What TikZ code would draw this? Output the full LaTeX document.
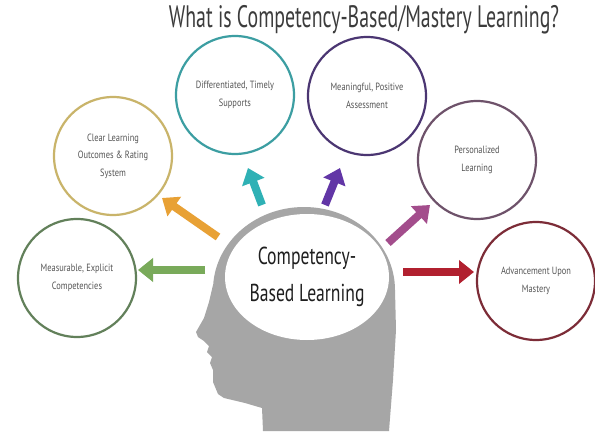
\documentclass[tikz,border=0pt]{standalone}
\usepackage{fontspec}
\usetikzlibrary{arrows.meta,shapes.geometric}
\newfontfamily\titlefont[FakeStretch=0.64]{PT Sans}
\newfontfamily\brainfont[FakeStretch=0.72]{PT Sans}
\newfontfamily\bubblefont[FakeStretch=0.8]{PT Sans}

\definecolor{titlegray}{HTML}{3C3C3C}
\definecolor{headgray}{HTML}{A6A6A6}
\definecolor{txtgray}{HTML}{555555}
\definecolor{cGreen}{HTML}{62805A}
\definecolor{cGold}{HTML}{C9B46A}
\definecolor{cTeal}{HTML}{3C9EA2}
\definecolor{cPurple}{HTML}{4B3672}
\definecolor{cMauve}{HTML}{6E526A}
\definecolor{cRed}{HTML}{7C2C37}
\definecolor{aGreen}{HTML}{79AA5A}
\definecolor{aOrange}{HTML}{E8A135}
\definecolor{aTeal}{HTML}{2FB1B5}
\definecolor{aPurple}{HTML}{6236A6}
\definecolor{aMagenta}{HTML}{A34D8C}
\definecolor{aRed}{HTML}{B1202F}

\tikzset{
  bubble/.style={circle, draw=#1, line width=2.2pt, fill=white,
    minimum size=118pt, inner sep=0pt, align=center,
    font=\bubblefont\fontsize{10.5}{17.5}\selectfont, text=txtgray},
  bigarrow/.style={draw=#1, line width=8pt,
    -{Triangle[length=15pt,width=23pt]}}
}

\begin{document}
\begin{tikzpicture}[x=1pt,y=-1pt]
\useasboundingbox (0,0) rectangle (595,436);
\fill[white] (0,0) rectangle (595,436);

% title
\node[font=\titlefont\fontsize{31}{36}\selectfont, text=titlegray] (title)
  at (364,20) {What is Competency-Based/Mastery Learning?};

% outcome bubbles
\node[bubble=cGreen]  (c1) at (77,278)  {Measurable, Explicit\\Competencies};
\node[bubble=cGold]   (c2) at (113,156) {Clear Learning\\Outcomes \& Rating\\System};
\node[bubble=cTeal]   (c3) at (235,95)  {Differentiated, Timely\\Supports};
\node[bubble=cPurple] (c4) at (367,96)  {Meaningful, Positive\\Assessment};
\node[bubble=cMauve]  (c5) at (477,160) {Personalized\\Learning};
\node[bubble=cRed]    (c6) at (536,281) {Advancement Upon\\Mastery};

% head silhouette: skull plus face profile
\fill[headgray] (304,290) ellipse [x radius=91, y radius=83];
\fill[headgray] (213,285) -- (209,302) -- (204,318) -- (196,332)
  -- (198,337) -- (204,341) -- (209,346) -- (207,352) -- (212,357)
  -- (210,363) -- (213,370) -- (213,382) -- (218,394) -- (224,398)
  -- (245,403) -- (262,408) -- (263,431) -- (389,431) -- (393,380)
  -- (396,330) -- (395,290) -- cycle;

% brain area with the central label
\node[ellipse, fill=white, minimum width=164pt, minimum height=126pt,
  inner sep=0pt, align=center, text=black!88,
  font=\brainfont\fontsize{24.5}{37}\selectfont] (brain) at (307,277)
  {Competency-\\Based Learning};

% arrows pointing out to the bubbles
\coordinate (gT) at (205,270); \coordinate (gH) at (138,270);
\coordinate (oT) at (218,237); \coordinate (oH) at (162,198);
\coordinate (tT) at (262,205); \coordinate (tH) at (248,168);
\coordinate (pT) at (325,205); \coordinate (pH) at (340,168);
\coordinate (mT) at (388,243); \coordinate (mH) at (430,205);
\coordinate (rT) at (403,272); \coordinate (rH) at (474,272);
\draw[bigarrow=aGreen]   (gT) -- (gH);
\draw[bigarrow=aOrange]  (oT) -- (oH);
\draw[bigarrow=aTeal]    (tT) -- (tH);
\draw[bigarrow=aPurple]  (pT) -- (pH);
\draw[bigarrow=aMagenta] (mT) -- (mH);
\draw[bigarrow=aRed]     (rT) -- (rH);
\end{tikzpicture}
\end{document}
